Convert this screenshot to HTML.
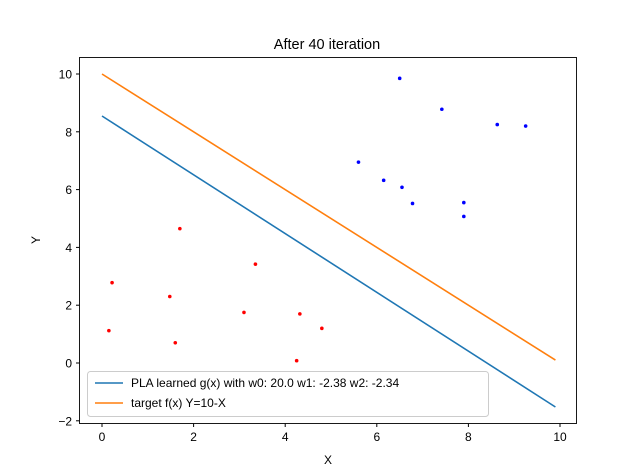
<!DOCTYPE html>
<html><head><meta charset="utf-8"><style>body{margin:0;background:#fff}svg{display:block;font-family:"Liberation Sans","DejaVu Sans",sans-serif}</style></head>
<body>
<svg id="chart" width="640" height="476">
<text x="327" y="49" font-size="14.5" text-anchor="middle">After 40 iteration</text>
<g id="plot"></g>
<rect x="79.5" y="57.5" width="497" height="366" fill="none" stroke="#000" stroke-width="0.9"/>
<text x="328" y="464" font-size="12" text-anchor="middle">X</text>
<text x="40" y="240" font-size="12" text-anchor="middle" transform="rotate(-90 40 240)">Y</text>
<g>
<rect x="87.5" y="371.5" width="401" height="45" rx="3" fill="#fff" fill-opacity="0.8" stroke="#ccc"/>
<line x1="95" y1="383" x2="123" y2="383" stroke="#1f77b4" stroke-width="1.6"/>
<text x="131" y="387" font-size="12">PLA learned g(x) with w0: 20.0 w1: -2.38 w2: -2.34</text>
<line x1="95" y1="403" x2="123" y2="403" stroke="#ff7f0e" stroke-width="1.6"/>
<text x="131" y="407" font-size="12">target f(x) Y=10-X</text>
</g>
</svg>
<script>
const blueX=[6.5,7.42,8.63,9.25,5.6,6.15,6.55,6.78,7.9,7.9];
const blueY=[9.85,8.78,8.25,8.2,6.95,6.32,6.08,5.52,5.55,5.07];
const redX=[1.7,0.22,3.35,1.48,0.15,3.1,4.32,4.8,1.6,4.25];
const redY=[4.65,2.78,3.42,2.3,1.12,1.75,1.7,1.2,0.7,0.08];
const w=[20.0,-2.38,-2.34];
const lineXs=[0,9.9];
const xTicks=[0,2,4,6,8,10];
const yTicks=[-2,0,2,4,6,8,10];
const sx=v=>102+v*45.8, sy=v=>363-v*28.9;
const NS="http://www.w3.org/2000/svg";
const g=document.getElementById('plot');
function mk(t,a){const e=document.createElementNS(NS,t);for(const k in a)e.setAttribute(k,a[k]);g.appendChild(e);return e;}
xTicks.forEach(t=>{
 const l=mk('line',{x1:sx(t),x2:sx(t),y1:423.5,y2:427,stroke:'#000'});
 
 
 const tx=mk('text',{x:sx(t),y:441,'font-size':12,'text-anchor':'middle'});tx.textContent=t;
 
 
});
yTicks.forEach(t=>{
 const l=mk('line',{x1:76,x2:79.5,y1:sy(t),y2:sy(t),stroke:'#000'});
 
 
 const tx=mk('text',{x:72,y:sy(t)+4.5,'font-size':12,'text-anchor':'end'});tx.textContent=t<0?'\u2212'+(-t):t;
 
 
});
const gy=x=>-(w[0]+w[1]*x)/w[2];
const l1=mk('polyline',{points:lineXs.map(x=>sx(x)+','+sy(gy(x))).join(' '),stroke:'#1f77b4','stroke-width':1.6,fill:'none'});


const l2=mk('polyline',{points:lineXs.map(x=>sx(x)+','+sy(10-x)).join(' '),stroke:'#ff7f0e','stroke-width':1.6,fill:'none'});


blueX.forEach((x,i)=>{const c=mk('circle',{cx:sx(x),cy:sy(blueY[i]),r:1.8,fill:'#0000ff'});
 
 });
redX.forEach((x,i)=>{const c=mk('circle',{cx:sx(x),cy:sy(redY[i]),r:1.8,fill:'#ff0000'});
 
 });
</script>
</body></html>
